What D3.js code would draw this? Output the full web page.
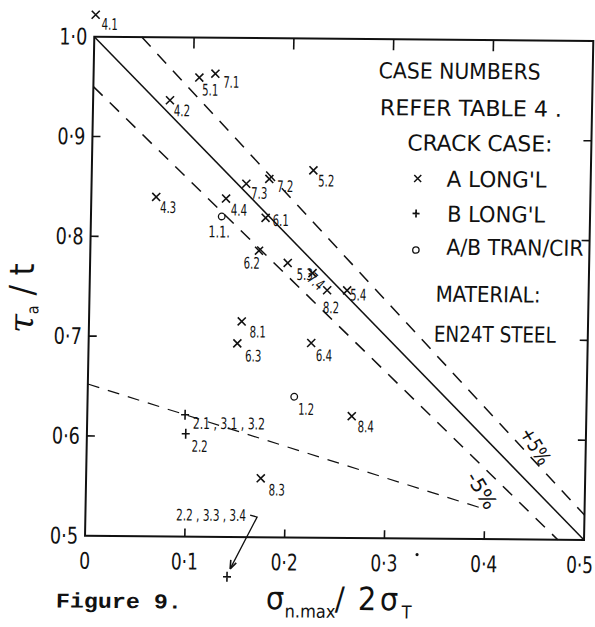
<!DOCTYPE html>
<html>
<head>
<meta charset="utf-8">
<script src="https://cdn.jsdelivr.net/npm/d3@7"></script>
<style>
  body { margin: 0; background: #fff; }
  svg { display: block; }
  .lt { font-family: "Liberation Sans Narrow", "DejaVu Sans Condensed", "Noto Sans", sans-serif; fill: #111; }
</style>
</head>
<body>
<svg id="chart" width="595" height="627"></svg>
<script>
// ---- axis ticks ----
const xTicks = [0, 0.1, 0.2, 0.3, 0.4, 0.5];
const xTickLabels = ["0", "0·1", "0·2", "0·3", "0·4", "0·5"];
const yTicks = [0.5, 0.6, 0.7, 0.8, 0.9, 1.0];
const yTickLabels = ["0·5", "0·6", "0·7", "0·8", "0·9", "1·0"];

// ---- crack case A, longitudinal (x) ----
const caseALabels = ["4.1", "5.1", "7.1", "4.2", "7.3", "7.2", "5.2", "4.3", "4.4", "6.1",
                     "6.2", "5.3", "7.4", "8.2", "5.4", "8.1", "6.3", "6.4", "8.4", "8.3"];
const caseAX = [0.001, 0.106, 0.122, 0.077, 0.155, 0.178, 0.222, 0.065, 0.135, 0.175,
                0.169, 0.198, 0.223, 0.238, 0.258, 0.153, 0.149, 0.223, 0.265, 0.175];
const caseAY = [1.022, 0.960, 0.964, 0.937, 0.854, 0.859, 0.868, 0.840, 0.839, 0.820,
                0.787, 0.775, 0.765, 0.748, 0.748, 0.716, 0.694, 0.695, 0.622, 0.559];

// ---- crack case B, longitudinal (+) ----
const caseBLabels = ["2.1 , 3.1 , 3.2", "2.2", "2.2 , 3.3 , 3.4"];
const caseBX = [0.098, 0.099, 0.143];
const caseBY = [0.622, 0.603, 0.46];

// ---- crack case A/B, transverse / circumferential (o) ----
const caseCLabels = ["1.1.", "1.2"];
const caseCX = [0.131, 0.207];
const caseCY = [0.821, 0.641];

// ---- reference lines: theory and +/-5% bands, lower bound ----
const theoryX = [0, 0.5], theoryY = [1.0, 0.5];
const upperX = [0.0476, 0.5], upperY = [1.0, 0.525];
const lowerX = [0, 0.4737], lowerY = [0.95, 0.5];
const boundX = [0, 0.40], boundY = [0.652, 0.530];

// label placement: dx, dy from the mark, anchor, rotation
const labelPos = {
  "4.1": [6, 15, "start"], "5.1": [3, 18, "start"], "7.1": [8, 14, "start"],
  "4.2": [4, 16, "start"], "7.3": [5, 15, "start"], "7.2": [8, 13, "start"],
  "5.2": [5, 16, "start"], "4.3": [4, 16, "start"], "4.4": [5, 17, "start"],
  "6.1": [7, 8, "start"], "6.2": [1, 18, "end"], "5.3": [9, 17, "start"],
  "7.4": [-6, 7, "start", 42], "8.2": [-4, 23, "start"], "5.4": [3, 10, "start"],
  "8.1": [8, 16, "start"], "6.3": [8, 18, "start"], "6.4": [5, 18, "start"],
  "8.4": [6, 16, "start"], "8.3": [8, 17, "start"],
  "2.1 , 3.1 , 3.2": [8, 14, "start"], "2.2": [6, 18, "start"],
  "1.1.": [-13, 21, "start"], "1.2": [4, 18, "start"]
};
const labelWidth = l => l.length > 6 ? 72 : l.length * 5.4;

const W = 499, H = 499;
const svg = d3.select("#chart");
// plot frame, sheared slightly as on the scanned sheet
const g = svg.append("g")
  .attr("transform", "matrix(1,0.0086,-0.0186,1,94.3,36.7)");

const x = d3.scaleLinear().domain([0, 0.5]).range([0, W]);
const y = d3.scaleLinear().domain([0.5, 1.0]).range([H, 0]);

// frame
g.append("rect").attr("x", 0).attr("y", 0).attr("width", W).attr("height", H)
  .attr("fill", "none").attr("stroke", "#111").attr("stroke-width", 2);

// inward ticks on all four sides
const tickLen = 8;
const inner = xTicks.slice(1, -1);
g.selectAll(".tb").data(inner).join("line")
  .attr("x1", d => x(d)).attr("x2", d => x(d)).attr("y1", H).attr("y2", H - tickLen)
  .attr("stroke", "#111").attr("stroke-width", 1.6);
g.selectAll(".tt").data(inner).join("line")
  .attr("x1", d => x(d)).attr("x2", d => x(d)).attr("y1", 0).attr("y2", tickLen + 3)
  .attr("stroke", "#111").attr("stroke-width", 1.6);
const innerY = yTicks.slice(1, -1);
g.selectAll(".tl").data(innerY).join("line")
  .attr("x1", 0).attr("x2", tickLen).attr("y1", d => y(d)).attr("y2", d => y(d))
  .attr("stroke", "#111").attr("stroke-width", 1.6);
g.selectAll(".tr").data(innerY).join("line")
  .attr("x1", W).attr("x2", W - tickLen).attr("y1", d => y(d)).attr("y2", d => y(d))
  .attr("stroke", "#111").attr("stroke-width", 1.6);

// tick labels (the last one nudged in from the sheet edge)
g.selectAll(".xl").data(xTicks).join("text").attr("class", "lt")
  .attr("x", (d, i) => x(d) - (i === xTicks.length - 1 ? 4 : 0)).attr("y", H + 33)
  .attr("text-anchor", "middle")
  .attr("font-size", 23)
  .attr("textLength", (d, i) => xTickLabels[i].length > 1 ? 27 : 11)
  .attr("lengthAdjust", "spacingAndGlyphs")
  .text((d, i) => xTickLabels[i]);
g.selectAll(".yl").data(yTicks).join("text").attr("class", "lt")
  .attr("x", -7).attr("y", d => y(d) + 8).attr("text-anchor", "end")
  .attr("font-size", 23).attr("textLength", 28).attr("lengthAdjust", "spacingAndGlyphs")
  .text((d, i) => yTickLabels[i]);

// reference lines
const line = d3.line().x(d => x(d[0])).y(d => y(d[1]));
const addLine = (xs, ys, dash, w) => g.append("path")
  .attr("d", line(xs.map((v, i) => [v, ys[i]])))
  .attr("fill", "none").attr("stroke", "#111").attr("stroke-width", w)
  .attr("stroke-dasharray", dash);
addLine(theoryX, theoryY, null, 1.5);
addLine(upperX, upperY, "13,10", 1.5);
addLine(lowerX, lowerY, "13,10", 1.5);
addLine(boundX, boundY, "12,9", 1.2);

// markers
const sym = 4;
function cross(sel) {
  sel.append("path").attr("d", `M${-sym},${-sym}L${sym},${sym}M${-sym},${sym}L${sym},${-sym}`)
    .attr("stroke", "#111").attr("stroke-width", 1.6).attr("fill", "none");
}
function plus(sel) {
  sel.append("path").attr("d", `M${-sym},0L${sym},0M0,${-sym - 1}L0,${sym + 1}`)
    .attr("stroke", "#111").attr("stroke-width", 1.6).attr("fill", "none");
}
function ring(sel) {
  sel.append("circle").attr("r", 3.3).attr("fill", "none")
    .attr("stroke", "#111").attr("stroke-width", 1.3);
}

function drawSeries(labels, xs, ys, mark) {
  const pts = labels.map((l, i) => ({ l, x: xs[i], y: ys[i] }));
  const grp = g.append("g").selectAll("g").data(pts).join("g")
    .attr("transform", d => `translate(${x(d.x)},${y(d.y)})`);
  grp.each(function () { mark(d3.select(this)); });
  grp.filter(d => labelPos[d.l]).append("text").attr("class", "lt")
    .attr("font-size", 16)
    .attr("transform", d => {
      const p = labelPos[d.l];
      return `translate(${p[0]},${p[1]})` + (p[3] ? ` rotate(${p[3]})` : "");
    })
    .attr("text-anchor", d => labelPos[d.l][2])
    .attr("textLength", d => labelWidth(d.l)).attr("lengthAdjust", "spacingAndGlyphs")
    .text(d => d.l);
  return pts;
}
drawSeries(caseALabels, caseAX, caseAY, cross);
const bPts = drawSeries(caseBLabels, caseBX, caseBY, plus);
drawSeries(caseCLabels, caseCX, caseCY, ring);

// call-out for the point below the axis
const far = bPts[2];
const fx = x(far.x), fy = y(far.y);
g.append("text").attr("class", "lt").attr("font-size", 16)
  .attr("x", fx - 52).attr("y", fy - 56)
  .attr("textLength", 70).attr("lengthAdjust", "spacingAndGlyphs").text(far.l);
g.append("path")
  .attr("d", `M${fx + 22},${fy - 62}L${fx + 29},${fy - 60}L${fx + 3},${fy - 8}`)
  .attr("fill", "none").attr("stroke", "#111").attr("stroke-width", 1.3);
g.append("path")
  .attr("d", `M${fx + 3},${fy - 8}l0.5,-9M${fx + 3},${fy - 8}l6,-6`)
  .attr("fill", "none").attr("stroke", "#111").attr("stroke-width", 1.6);

// +/-5% band labels
g.append("text").attr("class", "lt").attr("font-size", 20)
  .attr("transform", `translate(${x(0.433)},${y(0.607)}) rotate(58)`)
  .attr("textLength", 40).attr("lengthAdjust", "spacingAndGlyphs")
  .text("+5%");
g.append("text").attr("class", "lt").attr("font-size", 20)
  .attr("transform", `translate(${x(0.38)},${y(0.562)}) rotate(58)`)
  .attr("textLength", 40).attr("lengthAdjust", "spacingAndGlyphs")
  .text("-5%");

// stray dot below the axis
g.append("circle").attr("cx", x(0.333)).attr("cy", H + 16).attr("r", 1.6).attr("fill", "#111");

// notes
const notes = [
  ["CASE NUMBERS", 285, 39, 162],
  ["REFER  TABLE 4 .", 287, 76, 182],
  ["CRACK  CASE:", 315, 111, 145],
  ["A  LONG'L", 355, 147, 100],
  ["B  LONG'L", 356, 182, 98],
  ["A/B  TRAN/CIR", 356, 215, 137],
  ["MATERIAL:", 346, 262, 105],
  ["EN24T  STEEL", 345, 302, 122]
];
g.selectAll(".note").data(notes).join("text").attr("class", "lt")
  .attr("x", d => d[1]).attr("y", d => d[2])
  .attr("font-size", 22).attr("textLength", d => d[3]).attr("lengthAdjust", "spacingAndGlyphs")
  .text(d => d[0]);
const keyA = g.append("g").attr("transform", "translate(326,139)");
keyA.append("path").attr("d", "M-3.5,-3.5L3.5,3.5M-3.5,3.5L3.5,-3.5").attr("stroke", "#111").attr("stroke-width", 1.5);
const keyB = g.append("g").attr("transform", "translate(325,174)");
keyB.append("path").attr("d", "M-3.5,0L3.5,0M0,-4L0,4").attr("stroke", "#111").attr("stroke-width", 1.7);
g.append("circle").attr("cx", 325.5).attr("cy", 210.5).attr("r", 3.2)
  .attr("fill", "none").attr("stroke", "#111").attr("stroke-width", 1.3);

// axis titles
const yt = g.append("text").attr("class", "lt")
  .attr("transform", "translate(-56,262) rotate(-90)").attr("text-anchor", "middle")
  .attr("font-size", 34);
yt.append("tspan").attr("font-family", "DejaVu Serif").attr("font-style", "italic").text("τ");
yt.append("tspan").attr("font-size", 16).attr("dy", 5).text("a");
yt.append("tspan").attr("dy", -5).text(" / t");

const xTitle = [
  ["σ", 182, 0, 32, "DejaVu Serif"], ["n.max", 201, 8, 18, null], ["/", 251, 0, 32, null],
  ["2", 274, 0, 32, null], ["σ", 296, 0, 32, "DejaVu Serif"], ["T", 318, 8, 18, null]
];
g.selectAll(".xt").data(xTitle).join("text").attr("class", "lt")
  .attr("x", d => d[1]).attr("y", d => H + 72 + d[2]).attr("font-size", d => d[3])
  .attr("font-family", d => d[4]).text(d => d[0]);

g.append("text").attr("x", -28).attr("y", H + 72)
  .attr("font-family", "Liberation Mono, DejaVu Sans Mono, monospace")
  .attr("font-weight", "bold").attr("font-size", 21).attr("fill", "#111")
  .attr("textLength", 126).attr("lengthAdjust", "spacingAndGlyphs")
  .text("Figure 9.");
</script>
</body>
</html>
